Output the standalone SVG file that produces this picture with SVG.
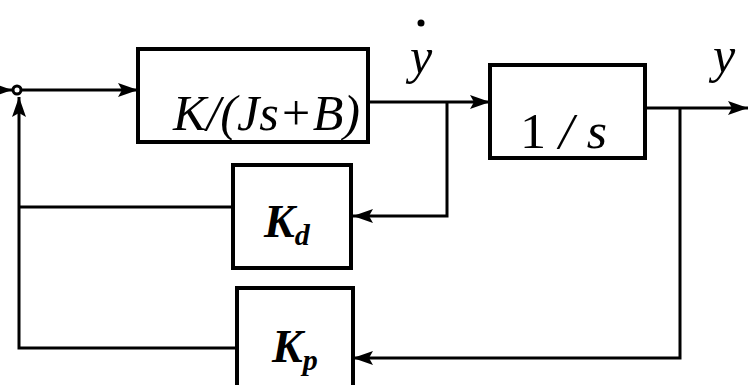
<svg xmlns="http://www.w3.org/2000/svg" width="748" height="385" viewBox="0 0 748 385">
<style>
.box{fill:#fff;stroke:#000;stroke-width:4}
.ln{fill:none;stroke:#000;stroke-width:3}
.t{font-family:"Liberation Serif","Times New Roman",serif;font-style:italic;fill:#000}
.up{font-style:normal}
.b{font-weight:bold}
</style>
<defs>
<marker id="ah" markerWidth="22" markerHeight="16" refX="20" refY="8" orient="auto" markerUnits="userSpaceOnUse">
<path d="M0,1 L20,8 L0,15 L4,8 Z" fill="#000"/>
</marker>
</defs>
<rect width="748" height="385" fill="#fff"/>
<g id="connectors">
<line class="ln" x1="0" y1="90" x2="12" y2="90" marker-end="url(#ah)"/>
<line class="ln" x1="21" y1="90" x2="138" y2="90" marker-end="url(#ah)"/>
<line class="ln" x1="368" y1="102" x2="490" y2="102" marker-end="url(#ah)"/>
<line class="ln" x1="645" y1="108" x2="748" y2="108" marker-end="url(#ah)"/>
<polyline class="ln" points="447,102 447,216 353,216" marker-end="url(#ah)"/>
<polyline class="ln" points="680,108 680,358 353,358" marker-end="url(#ah)"/>
<polyline class="ln" points="233,207 19,207"/>
<polyline class="ln" points="237,348 19,348 19,97" marker-end="url(#ah)"/>
</g>
<g id="sum">
<circle cx="17" cy="90" r="4" fill="#fff" stroke="#000" stroke-width="3"/>
</g>
<g id="plant">
<rect class="box" x="138" y="49" width="230" height="93"/>
<text class="t" x="173" y="130" font-size="50" textLength="187" lengthAdjust="spacingAndGlyphs">K/(Js+B)</text>
</g>
<g id="integrator">
<rect class="box" x="490" y="65" width="155" height="93"/>
<text class="t" x="520" y="148" font-size="50" textLength="87" lengthAdjust="spacingAndGlyphs"><tspan class="up">1</tspan> / s</text>
</g>
<g id="kd">
<rect class="box" x="233" y="165" width="118" height="103"/>
<text class="t b" x="264" y="237" font-size="46">K<tspan font-size="30" dy="8">d</tspan></text>
</g>
<g id="kp">
<rect class="box" x="237" y="288" width="116" height="110"/>
<text class="t b" x="272" y="362" font-size="46">K<tspan font-size="30" dy="8">p</tspan></text>
</g>
<g id="labels">
<text class="t" x="410" y="73" font-size="50">y</text>
<circle cx="421" cy="23" r="3.5" fill="#000"/>
<text class="t" x="713" y="72" font-size="50">y</text>
</g>
</svg>
